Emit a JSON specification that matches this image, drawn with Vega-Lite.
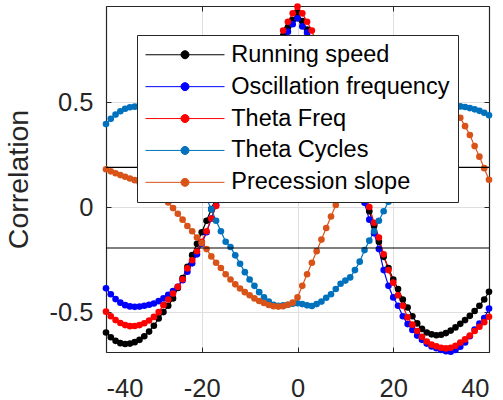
{
  "$schema": "https://vega.github.io/schema/vega-lite/v6.json",
  "width": 383,
  "height": 346,
  "autosize": {"type": "none"},
  "padding": {"left": 106, "top": 6, "right": 14, "bottom": 48},
  "config": {"view": {"stroke": null}, "font": "Liberation Sans"},
  "datasets": {
    "thr": [{"thr": 0.189}, {"thr": -0.195}],
    "pts": [
      {"s":"Running speed","x":-40,"y":-0.597},{"s":"Running speed","x":-39,"y":-0.62},{"s":"Running speed","x":-38,"y":-0.637},{"s":"Running speed","x":-37,"y":-0.648},{"s":"Running speed","x":-36,"y":-0.652},{"s":"Running speed","x":-35,"y":-0.65},{"s":"Running speed","x":-34,"y":-0.643},{"s":"Running speed","x":-33,"y":-0.632},{"s":"Running speed","x":-32,"y":-0.615},{"s":"Running speed","x":-31,"y":-0.593},{"s":"Running speed","x":-30,"y":-0.565},{"s":"Running speed","x":-29,"y":-0.53},{"s":"Running speed","x":-28,"y":-0.5},{"s":"Running speed","x":-27,"y":-0.47},{"s":"Running speed","x":-26,"y":-0.435},{"s":"Running speed","x":-25,"y":-0.385},{"s":"Running speed","x":-24,"y":-0.338},{"s":"Running speed","x":-23,"y":-0.285},{"s":"Running speed","x":-22,"y":-0.229},{"s":"Running speed","x":-21,"y":-0.175},{"s":"Running speed","x":-20,"y":-0.12},{"s":"Running speed","x":-19,"y":-0.065},{"s":"Running speed","x":-18,"y":-0.01},{"s":"Running speed","x":-17,"y":0.045},{"s":"Running speed","x":-16,"y":0.1},{"s":"Running speed","x":-15,"y":0.155},{"s":"Running speed","x":-14,"y":0.21},{"s":"Running speed","x":-13,"y":0.265},{"s":"Running speed","x":-12,"y":0.32},{"s":"Running speed","x":-11,"y":0.375},{"s":"Running speed","x":-10,"y":0.43},{"s":"Running speed","x":-9,"y":0.485},{"s":"Running speed","x":-8,"y":0.54},{"s":"Running speed","x":-7,"y":0.6},{"s":"Running speed","x":-6,"y":0.655},{"s":"Running speed","x":-5,"y":0.715},{"s":"Running speed","x":-4,"y":0.77},{"s":"Running speed","x":-3,"y":0.815},{"s":"Running speed","x":-2,"y":0.855},{"s":"Running speed","x":-1,"y":0.89},{"s":"Running speed","x":0,"y":0.925},{"s":"Running speed","x":1,"y":0.885},{"s":"Running speed","x":2,"y":0.845},{"s":"Running speed","x":3,"y":0.8},{"s":"Running speed","x":4,"y":0.74},{"s":"Running speed","x":5,"y":0.67},{"s":"Running speed","x":6,"y":0.6},{"s":"Running speed","x":7,"y":0.53},{"s":"Running speed","x":8,"y":0.46},{"s":"Running speed","x":9,"y":0.39},{"s":"Running speed","x":10,"y":0.32},{"s":"Running speed","x":11,"y":0.25},{"s":"Running speed","x":12,"y":0.18},{"s":"Running speed","x":13,"y":0.11},{"s":"Running speed","x":14,"y":0.04},{"s":"Running speed","x":15,"y":-0.02},{"s":"Running speed","x":16,"y":-0.09},{"s":"Running speed","x":17,"y":-0.165},{"s":"Running speed","x":18,"y":-0.237},{"s":"Running speed","x":19,"y":-0.29},{"s":"Running speed","x":20,"y":-0.345},{"s":"Running speed","x":21,"y":-0.39},{"s":"Running speed","x":22,"y":-0.44},{"s":"Running speed","x":23,"y":-0.478},{"s":"Running speed","x":24,"y":-0.52},{"s":"Running speed","x":25,"y":-0.554},{"s":"Running speed","x":26,"y":-0.58},{"s":"Running speed","x":27,"y":-0.597},{"s":"Running speed","x":28,"y":-0.606},{"s":"Running speed","x":29,"y":-0.61},{"s":"Running speed","x":30,"y":-0.608},{"s":"Running speed","x":31,"y":-0.6},{"s":"Running speed","x":32,"y":-0.588},{"s":"Running speed","x":33,"y":-0.573},{"s":"Running speed","x":34,"y":-0.556},{"s":"Running speed","x":35,"y":-0.538},{"s":"Running speed","x":36,"y":-0.518},{"s":"Running speed","x":37,"y":-0.495},{"s":"Running speed","x":38,"y":-0.47},{"s":"Running speed","x":39,"y":-0.44},{"s":"Running speed","x":40,"y":-0.403},
      {"s":"Oscillation frequency","x":-40,"y":-0.387},{"s":"Oscillation frequency","x":-39,"y":-0.415},{"s":"Oscillation frequency","x":-38,"y":-0.438},{"s":"Oscillation frequency","x":-37,"y":-0.455},{"s":"Oscillation frequency","x":-36,"y":-0.467},{"s":"Oscillation frequency","x":-35,"y":-0.473},{"s":"Oscillation frequency","x":-34,"y":-0.475},{"s":"Oscillation frequency","x":-33,"y":-0.474},{"s":"Oscillation frequency","x":-32,"y":-0.47},{"s":"Oscillation frequency","x":-31,"y":-0.465},{"s":"Oscillation frequency","x":-30,"y":-0.459},{"s":"Oscillation frequency","x":-29,"y":-0.448},{"s":"Oscillation frequency","x":-28,"y":-0.435},{"s":"Oscillation frequency","x":-27,"y":-0.418},{"s":"Oscillation frequency","x":-26,"y":-0.4},{"s":"Oscillation frequency","x":-25,"y":-0.38},{"s":"Oscillation frequency","x":-24,"y":-0.348},{"s":"Oscillation frequency","x":-23,"y":-0.308},{"s":"Oscillation frequency","x":-22,"y":-0.268},{"s":"Oscillation frequency","x":-21,"y":-0.225},{"s":"Oscillation frequency","x":-20,"y":-0.175},{"s":"Oscillation frequency","x":-19,"y":-0.12},{"s":"Oscillation frequency","x":-18,"y":-0.055},{"s":"Oscillation frequency","x":-17,"y":0.01},{"s":"Oscillation frequency","x":-16,"y":0.07},{"s":"Oscillation frequency","x":-15,"y":0.13},{"s":"Oscillation frequency","x":-14,"y":0.19},{"s":"Oscillation frequency","x":-13,"y":0.245},{"s":"Oscillation frequency","x":-12,"y":0.3},{"s":"Oscillation frequency","x":-11,"y":0.355},{"s":"Oscillation frequency","x":-10,"y":0.41},{"s":"Oscillation frequency","x":-9,"y":0.465},{"s":"Oscillation frequency","x":-8,"y":0.52},{"s":"Oscillation frequency","x":-7,"y":0.575},{"s":"Oscillation frequency","x":-6,"y":0.63},{"s":"Oscillation frequency","x":-5,"y":0.685},{"s":"Oscillation frequency","x":-4,"y":0.74},{"s":"Oscillation frequency","x":-3,"y":0.79},{"s":"Oscillation frequency","x":-2,"y":0.835},{"s":"Oscillation frequency","x":-1,"y":0.87},{"s":"Oscillation frequency","x":0,"y":0.898},{"s":"Oscillation frequency","x":1,"y":0.86},{"s":"Oscillation frequency","x":2,"y":0.83},{"s":"Oscillation frequency","x":3,"y":0.785},{"s":"Oscillation frequency","x":4,"y":0.72},{"s":"Oscillation frequency","x":5,"y":0.65},{"s":"Oscillation frequency","x":6,"y":0.58},{"s":"Oscillation frequency","x":7,"y":0.51},{"s":"Oscillation frequency","x":8,"y":0.44},{"s":"Oscillation frequency","x":9,"y":0.37},{"s":"Oscillation frequency","x":10,"y":0.3},{"s":"Oscillation frequency","x":11,"y":0.23},{"s":"Oscillation frequency","x":12,"y":0.16},{"s":"Oscillation frequency","x":13,"y":0.09},{"s":"Oscillation frequency","x":14,"y":0.02},{"s":"Oscillation frequency","x":15,"y":-0.06},{"s":"Oscillation frequency","x":16,"y":-0.125},{"s":"Oscillation frequency","x":17,"y":-0.2},{"s":"Oscillation frequency","x":18,"y":-0.3},{"s":"Oscillation frequency","x":19,"y":-0.375},{"s":"Oscillation frequency","x":20,"y":-0.43},{"s":"Oscillation frequency","x":21,"y":-0.47},{"s":"Oscillation frequency","x":22,"y":-0.52},{"s":"Oscillation frequency","x":23,"y":-0.557},{"s":"Oscillation frequency","x":24,"y":-0.585},{"s":"Oscillation frequency","x":25,"y":-0.612},{"s":"Oscillation frequency","x":26,"y":-0.632},{"s":"Oscillation frequency","x":27,"y":-0.65},{"s":"Oscillation frequency","x":28,"y":-0.664},{"s":"Oscillation frequency","x":29,"y":-0.672},{"s":"Oscillation frequency","x":30,"y":-0.68},{"s":"Oscillation frequency","x":31,"y":-0.686},{"s":"Oscillation frequency","x":32,"y":-0.689},{"s":"Oscillation frequency","x":33,"y":-0.68},{"s":"Oscillation frequency","x":34,"y":-0.665},{"s":"Oscillation frequency","x":35,"y":-0.645},{"s":"Oscillation frequency","x":36,"y":-0.615},{"s":"Oscillation frequency","x":37,"y":-0.583},{"s":"Oscillation frequency","x":38,"y":-0.555},{"s":"Oscillation frequency","x":39,"y":-0.528},{"s":"Oscillation frequency","x":40,"y":-0.483},
      {"s":"Theta Freq","x":-40,"y":-0.498},{"s":"Theta Freq","x":-39,"y":-0.52},{"s":"Theta Freq","x":-38,"y":-0.538},{"s":"Theta Freq","x":-37,"y":-0.552},{"s":"Theta Freq","x":-36,"y":-0.562},{"s":"Theta Freq","x":-35,"y":-0.567},{"s":"Theta Freq","x":-34,"y":-0.566},{"s":"Theta Freq","x":-33,"y":-0.562},{"s":"Theta Freq","x":-32,"y":-0.553},{"s":"Theta Freq","x":-31,"y":-0.54},{"s":"Theta Freq","x":-30,"y":-0.523},{"s":"Theta Freq","x":-29,"y":-0.5},{"s":"Theta Freq","x":-28,"y":-0.467},{"s":"Theta Freq","x":-27,"y":-0.44},{"s":"Theta Freq","x":-26,"y":-0.412},{"s":"Theta Freq","x":-25,"y":-0.38},{"s":"Theta Freq","x":-24,"y":-0.344},{"s":"Theta Freq","x":-23,"y":-0.292},{"s":"Theta Freq","x":-22,"y":-0.253},{"s":"Theta Freq","x":-21,"y":-0.21},{"s":"Theta Freq","x":-20,"y":-0.165},{"s":"Theta Freq","x":-19,"y":-0.115},{"s":"Theta Freq","x":-18,"y":-0.055},{"s":"Theta Freq","x":-17,"y":0.005},{"s":"Theta Freq","x":-16,"y":0.06},{"s":"Theta Freq","x":-15,"y":0.115},{"s":"Theta Freq","x":-14,"y":0.17},{"s":"Theta Freq","x":-13,"y":0.225},{"s":"Theta Freq","x":-12,"y":0.28},{"s":"Theta Freq","x":-11,"y":0.335},{"s":"Theta Freq","x":-10,"y":0.39},{"s":"Theta Freq","x":-9,"y":0.445},{"s":"Theta Freq","x":-8,"y":0.5},{"s":"Theta Freq","x":-7,"y":0.56},{"s":"Theta Freq","x":-6,"y":0.62},{"s":"Theta Freq","x":-5,"y":0.685},{"s":"Theta Freq","x":-4,"y":0.765},{"s":"Theta Freq","x":-3,"y":0.84},{"s":"Theta Freq","x":-2,"y":0.882},{"s":"Theta Freq","x":-1,"y":0.922},{"s":"Theta Freq","x":0,"y":0.954},{"s":"Theta Freq","x":1,"y":0.922},{"s":"Theta Freq","x":2,"y":0.882},{"s":"Theta Freq","x":3,"y":0.84},{"s":"Theta Freq","x":4,"y":0.77},{"s":"Theta Freq","x":5,"y":0.7},{"s":"Theta Freq","x":6,"y":0.63},{"s":"Theta Freq","x":7,"y":0.56},{"s":"Theta Freq","x":8,"y":0.49},{"s":"Theta Freq","x":9,"y":0.42},{"s":"Theta Freq","x":10,"y":0.35},{"s":"Theta Freq","x":11,"y":0.28},{"s":"Theta Freq","x":12,"y":0.21},{"s":"Theta Freq","x":13,"y":0.14},{"s":"Theta Freq","x":14,"y":0.07},{"s":"Theta Freq","x":15,"y":0.0},{"s":"Theta Freq","x":16,"y":-0.075},{"s":"Theta Freq","x":17,"y":-0.145},{"s":"Theta Freq","x":18,"y":-0.225},{"s":"Theta Freq","x":19,"y":-0.3},{"s":"Theta Freq","x":20,"y":-0.36},{"s":"Theta Freq","x":21,"y":-0.42},{"s":"Theta Freq","x":22,"y":-0.47},{"s":"Theta Freq","x":23,"y":-0.525},{"s":"Theta Freq","x":24,"y":-0.56},{"s":"Theta Freq","x":25,"y":-0.59},{"s":"Theta Freq","x":26,"y":-0.618},{"s":"Theta Freq","x":27,"y":-0.64},{"s":"Theta Freq","x":28,"y":-0.655},{"s":"Theta Freq","x":29,"y":-0.663},{"s":"Theta Freq","x":30,"y":-0.67},{"s":"Theta Freq","x":31,"y":-0.673},{"s":"Theta Freq","x":32,"y":-0.67},{"s":"Theta Freq","x":33,"y":-0.66},{"s":"Theta Freq","x":34,"y":-0.645},{"s":"Theta Freq","x":35,"y":-0.63},{"s":"Theta Freq","x":36,"y":-0.612},{"s":"Theta Freq","x":37,"y":-0.59},{"s":"Theta Freq","x":38,"y":-0.57},{"s":"Theta Freq","x":39,"y":-0.548},{"s":"Theta Freq","x":40,"y":-0.522},
      {"s":"Theta Cycles","x":-40,"y":0.395},{"s":"Theta Cycles","x":-39,"y":0.42},{"s":"Theta Cycles","x":-38,"y":0.44},{"s":"Theta Cycles","x":-37,"y":0.456},{"s":"Theta Cycles","x":-36,"y":0.468},{"s":"Theta Cycles","x":-35,"y":0.475},{"s":"Theta Cycles","x":-34,"y":0.478},{"s":"Theta Cycles","x":-33,"y":0.479},{"s":"Theta Cycles","x":-32,"y":0.476},{"s":"Theta Cycles","x":-31,"y":0.47},{"s":"Theta Cycles","x":-30,"y":0.46},{"s":"Theta Cycles","x":-29,"y":0.445},{"s":"Theta Cycles","x":-28,"y":0.425},{"s":"Theta Cycles","x":-27,"y":0.4},{"s":"Theta Cycles","x":-26,"y":0.37},{"s":"Theta Cycles","x":-25,"y":0.335},{"s":"Theta Cycles","x":-24,"y":0.295},{"s":"Theta Cycles","x":-23,"y":0.25},{"s":"Theta Cycles","x":-22,"y":0.2},{"s":"Theta Cycles","x":-21,"y":0.145},{"s":"Theta Cycles","x":-20,"y":0.09},{"s":"Theta Cycles","x":-19,"y":0.04},{"s":"Theta Cycles","x":-18,"y":-0.01},{"s":"Theta Cycles","x":-17,"y":-0.065},{"s":"Theta Cycles","x":-16,"y":-0.115},{"s":"Theta Cycles","x":-15,"y":-0.165},{"s":"Theta Cycles","x":-14,"y":-0.19},{"s":"Theta Cycles","x":-13,"y":-0.23},{"s":"Theta Cycles","x":-12,"y":-0.27},{"s":"Theta Cycles","x":-11,"y":-0.31},{"s":"Theta Cycles","x":-10,"y":-0.345},{"s":"Theta Cycles","x":-9,"y":-0.375},{"s":"Theta Cycles","x":-8,"y":-0.405},{"s":"Theta Cycles","x":-7,"y":-0.43},{"s":"Theta Cycles","x":-6,"y":-0.45},{"s":"Theta Cycles","x":-5,"y":-0.465},{"s":"Theta Cycles","x":-4,"y":-0.47},{"s":"Theta Cycles","x":-3,"y":-0.468},{"s":"Theta Cycles","x":-2,"y":-0.465},{"s":"Theta Cycles","x":-1,"y":-0.46},{"s":"Theta Cycles","x":0,"y":-0.458},{"s":"Theta Cycles","x":1,"y":-0.462},{"s":"Theta Cycles","x":2,"y":-0.468},{"s":"Theta Cycles","x":3,"y":-0.471},{"s":"Theta Cycles","x":4,"y":-0.462},{"s":"Theta Cycles","x":5,"y":-0.45},{"s":"Theta Cycles","x":6,"y":-0.432},{"s":"Theta Cycles","x":7,"y":-0.415},{"s":"Theta Cycles","x":8,"y":-0.39},{"s":"Theta Cycles","x":9,"y":-0.365},{"s":"Theta Cycles","x":10,"y":-0.35},{"s":"Theta Cycles","x":11,"y":-0.335},{"s":"Theta Cycles","x":12,"y":-0.3},{"s":"Theta Cycles","x":13,"y":-0.26},{"s":"Theta Cycles","x":14,"y":-0.205},{"s":"Theta Cycles","x":15,"y":-0.16},{"s":"Theta Cycles","x":16,"y":-0.115},{"s":"Theta Cycles","x":17,"y":-0.065},{"s":"Theta Cycles","x":18,"y":-0.02},{"s":"Theta Cycles","x":19,"y":0.025},{"s":"Theta Cycles","x":20,"y":0.07},{"s":"Theta Cycles","x":21,"y":0.12},{"s":"Theta Cycles","x":22,"y":0.17},{"s":"Theta Cycles","x":23,"y":0.22},{"s":"Theta Cycles","x":24,"y":0.265},{"s":"Theta Cycles","x":25,"y":0.31},{"s":"Theta Cycles","x":26,"y":0.35},{"s":"Theta Cycles","x":27,"y":0.385},{"s":"Theta Cycles","x":28,"y":0.415},{"s":"Theta Cycles","x":29,"y":0.44},{"s":"Theta Cycles","x":30,"y":0.46},{"s":"Theta Cycles","x":31,"y":0.472},{"s":"Theta Cycles","x":32,"y":0.478},{"s":"Theta Cycles","x":33,"y":0.48},{"s":"Theta Cycles","x":34,"y":0.479},{"s":"Theta Cycles","x":35,"y":0.476},{"s":"Theta Cycles","x":36,"y":0.471},{"s":"Theta Cycles","x":37,"y":0.465},{"s":"Theta Cycles","x":38,"y":0.458},{"s":"Theta Cycles","x":39,"y":0.449},{"s":"Theta Cycles","x":40,"y":0.437},
      {"s":"Precession slope","x":-40,"y":0.18},{"s":"Precession slope","x":-39,"y":0.17},{"s":"Precession slope","x":-38,"y":0.161},{"s":"Precession slope","x":-37,"y":0.152},{"s":"Precession slope","x":-36,"y":0.144},{"s":"Precession slope","x":-35,"y":0.136},{"s":"Precession slope","x":-34,"y":0.128},{"s":"Precession slope","x":-33,"y":0.118},{"s":"Precession slope","x":-32,"y":0.107},{"s":"Precession slope","x":-31,"y":0.095},{"s":"Precession slope","x":-30,"y":0.082},{"s":"Precession slope","x":-29,"y":0.067},{"s":"Precession slope","x":-28,"y":0.05},{"s":"Precession slope","x":-27,"y":0.022},{"s":"Precession slope","x":-26,"y":-0.005},{"s":"Precession slope","x":-25,"y":-0.032},{"s":"Precession slope","x":-24,"y":-0.06},{"s":"Precession slope","x":-23,"y":-0.09},{"s":"Precession slope","x":-22,"y":-0.115},{"s":"Precession slope","x":-21,"y":-0.145},{"s":"Precession slope","x":-20,"y":-0.172},{"s":"Precession slope","x":-19,"y":-0.2},{"s":"Precession slope","x":-18,"y":-0.235},{"s":"Precession slope","x":-17,"y":-0.265},{"s":"Precession slope","x":-16,"y":-0.29},{"s":"Precession slope","x":-15,"y":-0.32},{"s":"Precession slope","x":-14,"y":-0.345},{"s":"Precession slope","x":-13,"y":-0.368},{"s":"Precession slope","x":-12,"y":-0.388},{"s":"Precession slope","x":-11,"y":-0.405},{"s":"Precession slope","x":-10,"y":-0.42},{"s":"Precession slope","x":-9,"y":-0.435},{"s":"Precession slope","x":-8,"y":-0.447},{"s":"Precession slope","x":-7,"y":-0.457},{"s":"Precession slope","x":-6,"y":-0.466},{"s":"Precession slope","x":-5,"y":-0.472},{"s":"Precession slope","x":-4,"y":-0.474},{"s":"Precession slope","x":-3,"y":-0.472},{"s":"Precession slope","x":-2,"y":-0.465},{"s":"Precession slope","x":-1,"y":-0.455},{"s":"Precession slope","x":0,"y":-0.43},{"s":"Precession slope","x":1,"y":-0.375},{"s":"Precession slope","x":2,"y":-0.32},{"s":"Precession slope","x":3,"y":-0.265},{"s":"Precession slope","x":4,"y":-0.21},{"s":"Precession slope","x":5,"y":-0.155},{"s":"Precession slope","x":6,"y":-0.1},{"s":"Precession slope","x":7,"y":-0.045},{"s":"Precession slope","x":8,"y":0.01},{"s":"Precession slope","x":9,"y":0.065},{"s":"Precession slope","x":10,"y":0.12},{"s":"Precession slope","x":11,"y":0.175},{"s":"Precession slope","x":12,"y":0.23},{"s":"Precession slope","x":13,"y":0.285},{"s":"Precession slope","x":14,"y":0.34},{"s":"Precession slope","x":15,"y":0.39},{"s":"Precession slope","x":16,"y":0.44},{"s":"Precession slope","x":17,"y":0.485},{"s":"Precession slope","x":18,"y":0.53},{"s":"Precession slope","x":19,"y":0.57},{"s":"Precession slope","x":20,"y":0.6},{"s":"Precession slope","x":21,"y":0.62},{"s":"Precession slope","x":22,"y":0.635},{"s":"Precession slope","x":23,"y":0.642},{"s":"Precession slope","x":24,"y":0.64},{"s":"Precession slope","x":25,"y":0.635},{"s":"Precession slope","x":26,"y":0.625},{"s":"Precession slope","x":27,"y":0.61},{"s":"Precession slope","x":28,"y":0.59},{"s":"Precession slope","x":29,"y":0.57},{"s":"Precession slope","x":30,"y":0.55},{"s":"Precession slope","x":31,"y":0.525},{"s":"Precession slope","x":32,"y":0.5},{"s":"Precession slope","x":33,"y":0.465},{"s":"Precession slope","x":34,"y":0.425},{"s":"Precession slope","x":35,"y":0.385},{"s":"Precession slope","x":36,"y":0.343},{"s":"Precession slope","x":37,"y":0.29},{"s":"Precession slope","x":38,"y":0.24},{"s":"Precession slope","x":39,"y":0.185},{"s":"Precession slope","x":40,"y":0.13}
    ]
  },
  "resolve": {"axis": {"x": "independent", "y": "independent"}},
  "layer": [
    {
      "data": {"name": "pts"},
      "mark": {"type": "line", "strokeWidth": 1.2},
      "encoding": {
        "x": {
          "field": "x", "type": "quantitative",
          "scale": {"domain": [-40, 40], "nice": false, "zero": false},
          "axis": {
            "orient": "bottom", "title": null, "values": [-40, -20, 0, 20, 40],
            "labelExpr": "'' + datum.value", "labelFont": "Liberation Sans", "labelFontSize": 25.5,
            "labelColor": "#262626", "labelPadding": 29, "tickSize": -5, "tickColor": "#262626",
            "domainColor": "#262626", "domainWidth": 1.2, "grid": true, "gridColor": "#dfdfdf", "gridWidth": 1
          }
        },
        "y": {
          "field": "y", "type": "quantitative",
          "scale": {"domain": [-0.69, 0.957], "nice": false, "zero": false},
          "axis": {
            "orient": "left", "title": "Correlation", "values": [-0.5, 0, 0.5],
            "labelExpr": "'' + datum.value", "labelFont": "Liberation Sans", "labelFontSize": 25.5,
            "labelColor": "#262626", "labelPadding": 18, "tickSize": -5, "tickColor": "#262626",
            "domainColor": "#262626", "domainWidth": 1.2, "grid": true, "gridColor": "#dfdfdf", "gridWidth": 1,
            "titleFont": "Liberation Sans", "titleFontSize": 28.5, "titleFontWeight": "normal",
            "titleColor": "#262626", "titlePadding": 16
          }
        },
        "color": {
          "field": "s", "type": "nominal",
          "scale": {
            "domain": ["Running speed", "Oscillation frequency", "Theta Freq", "Theta Cycles", "Precession slope"],
            "range": ["#000000", "#0000ff", "#ff0000", "#0072bd", "#d95319"]
          },
          "legend": {
            "title": null, "orient": "none", "legendX": 31, "legendY": 29,
            "symbolType": "M-3.59,0L3.59,0M0.364,0A0.364,0.364,0,1,1,-0.364,0A0.364,0.364,0,1,1,0.364,0Z",
            "symbolSize": 484, "symbolStrokeWidth": 1, "symbolOffset": 28.25,
            "labelFont": "Liberation Sans", "labelFontSize": 23.5, "labelColor": "#000000",
            "labelOffset": 34.5, "labelLimit": 400,
            "padding": 8, "rowPadding": 6.9,
            "fillColor": "#ffffff", "strokeColor": "#262626",
            "encode": {
              "symbols": {
                "update": {
                  "fill": {"scale": "color", "field": "value"},
                  "stroke": {"scale": "color", "field": "value"},
                  "opacity": {"value": 1}
                }
              }
            }
          }
        }
      }
    },
    {
      "data": {"name": "pts"},
      "mark": {"type": "circle", "size": 44, "opacity": 1},
      "encoding": {
        "x": {
          "field": "x", "type": "quantitative",
          "axis": {
            "orient": "top", "title": null, "labels": false, "values": [-40, -20, 0, 20, 40],
            "tickSize": -5, "tickColor": "#262626", "domainColor": "#262626", "domainWidth": 1.2, "grid": false
          }
        },
        "y": {
          "field": "y", "type": "quantitative",
          "axis": {
            "orient": "right", "title": null, "labels": false, "values": [-0.5, 0, 0.5],
            "tickSize": -5, "tickColor": "#262626", "domainColor": "#262626", "domainWidth": 1.2, "grid": false
          }
        },
        "color": {"field": "s", "type": "nominal"}
      }
    },
    {
      "data": {"name": "thr"},
      "mark": {"type": "rule", "color": "#000000", "strokeWidth": 1.2},
      "encoding": {
        "y": {"field": "thr", "type": "quantitative", "axis": null}
      }
    }
  ]
}
